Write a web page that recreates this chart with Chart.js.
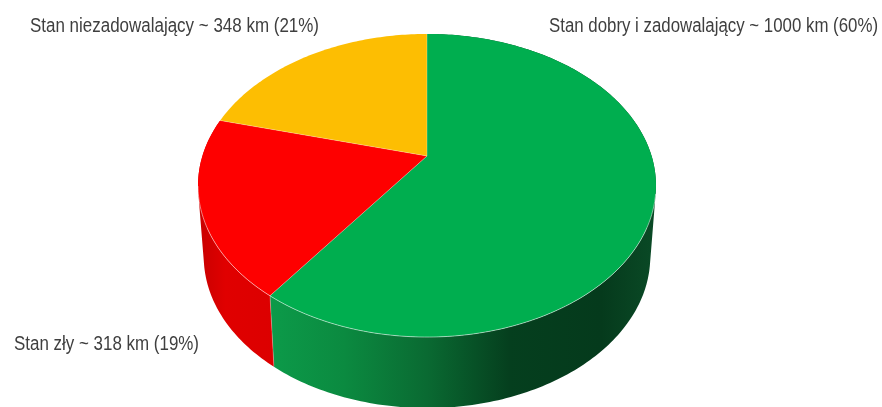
<!DOCTYPE html>
<html>
<head>
<meta charset="utf-8">
<style>
    html, body { margin: 0; padding: 0; background: #fff; }
    canvas { display: block; }
</style>
<script src="https://cdn.jsdelivr.net/npm/chart.js@4"></script>
</head>
<body>
<canvas id="stanChart" width="882" height="407"></canvas>
<script>
const categories = ['Stan dobry i zadowalający', 'Stan zły', 'Stan niezadowalający'];
const kilometres = [1000, 318, 348];
const percents = [60, 19, 21];
const colors = ['#00ae4f', '#fe0000', '#fdbe02'];

// the top of the disc seen in perspective, the centre of the pie is not the centre of the ellipse
const view = { cx: 427, cy: 156, rx: 224.6, ry: 145.8, tilt: 0.1947, depth: 71, shrink: 0.975 };
const labelPlaces = [
    { x: 549, y: 32, width: 329 },
    { x: 14, y: 350, width: 185 },
    { x: 30, y: 32, width: 289 }
];

function project(angle) {
    const s = 1 / (1 - view.tilt * Math.sin(angle));
    return {
        x: view.cx + view.rx * Math.cos(angle) * s,
        y: view.cy + view.ry * Math.sin(angle) * s
    };
}

function lower(p) {
    return { x: view.cx + (p.x - view.cx) * view.shrink, y: p.y + view.depth };
}

function traceRim(ctx, from, to) {
    const steps = Math.ceil(Math.abs(to - from) * 60);
    for (let i = 0; i <= steps; i++) {
        const p = project(from + (to - from) * i / steps);
        ctx.lineTo(p.x, p.y);
    }
}

// the wall is swept piece by piece so its outline runs straight from rim to lower rim.
// all pieces wind the same way and go into one path, so there are no seams between them
function fillWall(ctx, from, to) {
    const steps = Math.ceil(Math.abs(to - from) * 60);
    ctx.beginPath();
    for (let i = 0; i < steps; i++) {
        const a = project(from + (to - from) * i / steps);
        const b = project(from + (to - from) * (i + 1) / steps);
        const quad = [a, b, lower(b), lower(a)];
        let area = 0;
        quad.forEach((p, j) => {
            const q = quad[(j + 1) % 4];
            area += p.x * q.y - q.x * p.y;
        });
        if (area < 0) quad.reverse();
        ctx.moveTo(quad[0].x, quad[0].y);
        quad.slice(1).forEach(p => ctx.lineTo(p.x, p.y));
        ctx.closePath();
    }
    ctx.fill();
}

function wallFill(ctx, index) {
    const g = ctx.createLinearGradient(198, 0, 656, 0);
    if (index === 0) {
        g.addColorStop(0.16, '#0c9a49');
        g.addColorStop(0.32, '#0b8a40');
        g.addColorStop(0.5, '#0a6a32');
        g.addColorStop(0.68, '#053f1e');
        g.addColorStop(0.88, '#053a1c');
        g.addColorStop(1, '#0a4a26');
    } else {
        g.addColorStop(0, '#c80000');
        g.addColorStop(0.06, '#e00000');
        g.addColorStop(0.17, '#dc0000');
    }
    return g;
}

const perspectivePie = {
    id: 'perspectivePie',
    beforeDatasetDraw(chart, args) {
        const ctx = chart.ctx;
        const arcs = chart.getDatasetMeta(args.index).data;
        ctx.save();

        // side walls first, the top face covers what lies behind it
        arcs.slice(0, 2).forEach((arc, i) => {
            ctx.fillStyle = wallFill(ctx, i);
            fillWall(ctx, arc.startAngle, arc.endAngle);
        });

        // top face
        arcs.forEach(arc => {
            ctx.beginPath();
            ctx.moveTo(view.cx, view.cy);
            traceRim(ctx, arc.startAngle, arc.endAngle);
            ctx.closePath();
            ctx.fillStyle = arc.options.backgroundColor;
            ctx.fill();
        });

        // pale lines between the slices and along the front edge
        ctx.lineWidth = 1;
        ctx.strokeStyle = 'rgba(255,255,255,0.28)';
        arcs.forEach(arc => {
            const p = project(arc.startAngle);
            ctx.beginPath();
            ctx.moveTo(view.cx, view.cy);
            ctx.lineTo(p.x, p.y);
            ctx.stroke();
        });
        ctx.strokeStyle = 'rgba(255,255,255,0.5)';
        ctx.beginPath();
        traceRim(ctx, 0.25, Math.PI - 0.2);
        ctx.stroke();

        const split = project(arcs[1].startAngle);
        const splitLow = lower(split);
        ctx.strokeStyle = 'rgba(255,255,255,0.25)';
        ctx.beginPath();
        ctx.moveTo(split.x, split.y);
        ctx.lineTo(splitLow.x, splitLow.y);
        ctx.stroke();

        ctx.restore();
        return false;
    },
    afterDraw(chart) {
        const ctx = chart.ctx;
        ctx.save();
        ctx.font = '20px "Liberation Sans"';
        ctx.fillStyle = '#3f3f3f';
        ctx.textBaseline = 'alphabetic';
        ctx.filter = 'blur(0.4px)';
        categories.forEach((name, i) => {
            const place = labelPlaces[i];
            const text = name + ' ~ ' + kilometres[i] + ' km (' + percents[i] + '%)';
            ctx.fillText(text, place.x, place.y, place.width);
        });
        ctx.restore();
    }
};

new Chart(document.getElementById('stanChart').getContext('2d'), {
    type: 'pie',
    data: {
        labels: categories,
        datasets: [{
            data: kilometres,
            backgroundColor: colors,
            borderWidth: 0
        }]
    },
    options: {
        responsive: false,
        animation: false,
        plugins: {
            legend: { display: false },
            tooltip: { enabled: false }
        }
    },
    plugins: [perspectivePie]
});
</script>
</body>
</html>
